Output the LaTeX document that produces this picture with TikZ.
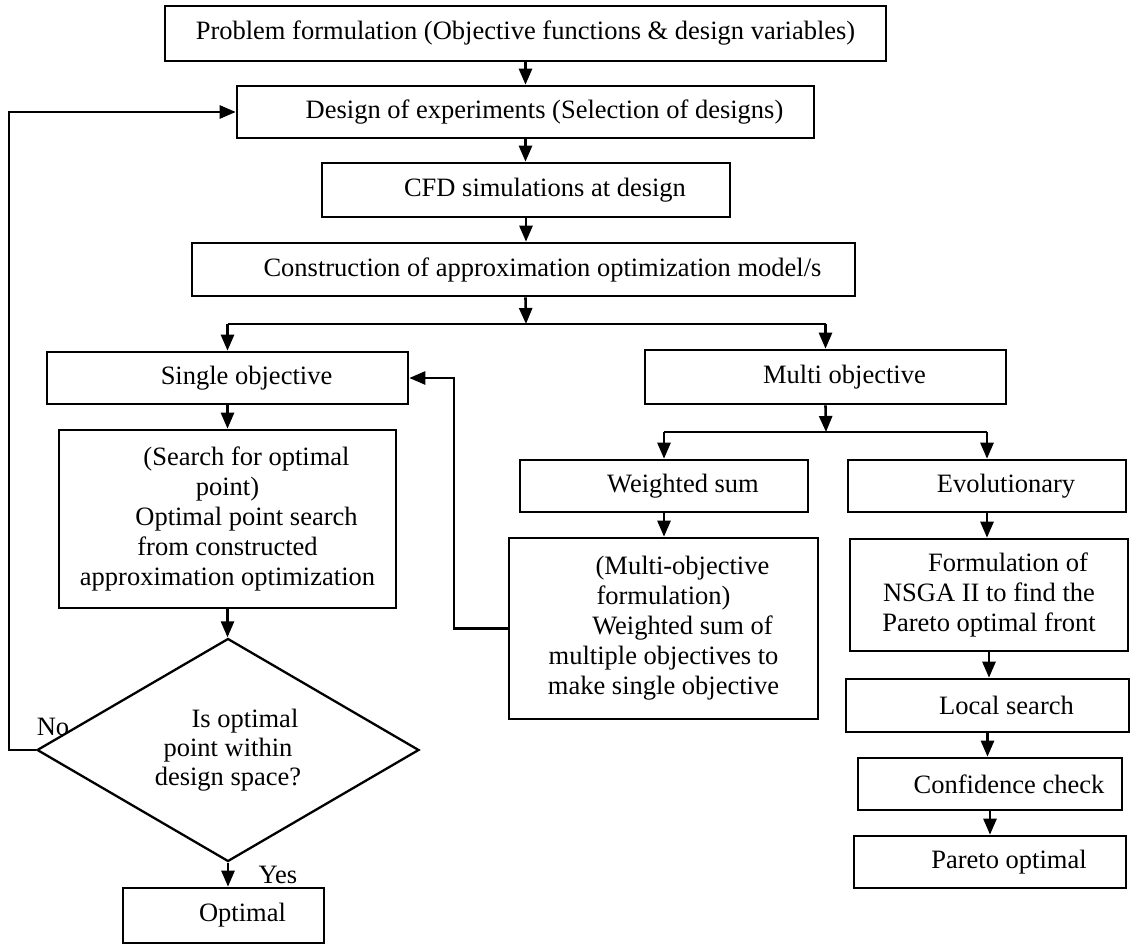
\documentclass[tikz,border=0pt]{standalone}
\usepackage{fontspec}
\setmainfont{Liberation Serif}
\usetikzlibrary{arrows.meta,shapes.geometric}
\newcommand\myind{\hspace*{38pt}}
\begin{document}
\begin{tikzpicture}[x=1pt,y=-1pt,
  box/.style={draw, line width=2.6pt, inner sep=0pt, font=\fontsize{26.5}{30}\selectfont, align=center},
  dia/.style={draw, diamond, line width=2.3pt, inner sep=0pt, aspect=1.71, font=\fontsize{26.5}{29}\selectfont, align=center},
  arr/.style={line width=2.6pt, -{Triangle[length=16pt,width=13pt]}},
  ln/.style={line width=2.6pt},
  lbl/.style={font=\fontsize{26.5}{30}\selectfont, inner sep=0pt}]
\useasboundingbox (0,0) rectangle (1130,944);

% main column
\node[box, minimum width=721pt, minimum height=55pt] (b1) at (525.5,33.5) {Problem formulation (Objective functions \& design variables)};
\node[box, minimum width=577pt, minimum height=52pt] (b2) at (525.5,112) {\myind Design of experiments (Selection of designs)};
\node[box, minimum width=408pt, minimum height=54pt] (b3) at (526,190) {\myind CFD simulations at design};
\node[box, minimum width=663pt, minimum height=53pt] (b4) at (523.5,269.5) {\myind Construction of approximation optimization model/s};

% single objective branch
\node[box, minimum width=361pt, minimum height=52pt] (so) at (227.5,378) {\myind Single objective};
\node[box, minimum width=337pt, minimum height=178pt] (srch) at (227.5,519) {\myind(Search for optimal\\point)\\\myind Optimal point search\\from constructed\\approximation optimization};
\node[dia, minimum width=382pt, minimum height=223pt] (dec) at (228,750) {\hspace*{34pt}Is optimal\\point within\\design space?};
\node[box, minimum width=201pt, minimum height=55pt] (opt) at (223.5,915.5) {\myind Optimal};

% multi objective branch
\node[box, minimum width=361pt, minimum height=54pt] (mo) at (825.5,377) {\myind Multi objective};
\node[box, minimum width=288pt, minimum height=52pt] (ws) at (664,486) {\myind Weighted sum};
\node[box, minimum width=278pt, minimum height=52pt] (evo) at (987,486) {\myind Evolutionary};
\node[box, minimum width=309pt, minimum height=181pt] (mof) at (663.5,628.5) {\myind(Multi-objective\\formulation)\\\myind Weighted sum of\\multiple objectives to\\make single objective};
\node[box, minimum width=278pt, minimum height=112pt] (nsga) at (989,595) {\myind Formulation of\\NSGA II to find the\\Pareto optimal front};
\node[box, minimum width=283pt, minimum height=53pt] (loc) at (987.5,705.5) {\myind Local search};
\node[box, minimum width=264pt, minimum height=52pt] (conf) at (990,784) {\myind Confidence check};
\node[box, minimum width=272pt, minimum height=52pt] (par) at (990,862) {\myind Pareto optimal};

% labels
\node[lbl] (no) at (53,727) {No};
\node[lbl] (yes) at (278,875) {Yes};

% junction / routing coordinates
\coordinate (s1) at (526,324);
\coordinate (s2) at (826,432);
\coordinate (fb) at (454,0);

% main column arrows
\draw[arr] (b1.south) -- (b1.south |- b2.north);
\draw[arr] (b2.south) -- (b2.south |- b3.north);
\draw[arr] (b3.south) -- (b3.south |- b4.north);
\draw[arr] (b1.south |- b4.south) -- (s1);
\draw[ln] (so.north |- s1) -- (mo.north |- s1);
\draw[arr] (so.north |- s1) -- (so.north);
\draw[arr] (mo.north |- s1) -- (mo.north);

% single objective arrows
\draw[arr] (so.south) -- (so.south |- srch.north);
\draw[arr] (srch.south) -- (srch.south |- dec.north);
\draw[arr] (dec.south) -- (dec.south |- opt.north);
\draw[arr] (dec.west) -- ++(-27,0) |- (b2.west);

% multi objective arrows
\draw[arr] (mo.south) -- (s2);
\draw[ln] (ws.north |- s2) -- (evo.north |- s2);
\draw[arr] (ws.north |- s2) -- (ws.north);
\draw[arr] (evo.north |- s2) -- (evo.north);
\draw[arr] (ws.south) -- (ws.south |- mof.north);
\draw[arr] (mof.west) -- (mof.west -| fb) |- (so.east);
\draw[arr] (evo.south) -- (evo.south |- nsga.north);
\draw[arr] (nsga.south) -- (nsga.south |- loc.north);
\draw[arr] (loc.south) -- (loc.south |- conf.north);
\draw[arr] (conf.south) -- (conf.south |- par.north);
\end{tikzpicture}
\end{document}
